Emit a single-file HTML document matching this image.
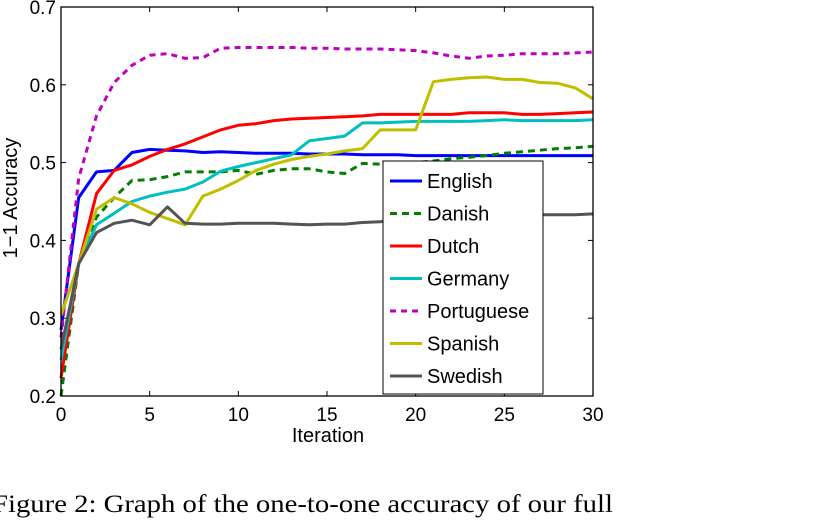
<!DOCTYPE html>
<html><head><meta charset="utf-8"><style>
html,body{margin:0;padding:0;background:#fff;}
svg{display:block;font-family:"Liberation Sans",Arial,sans-serif;}
</style></head><body>
<svg id="chart" width="818" height="521" viewBox="0 0 818 521">
<rect x="0" y="0" width="818" height="521" fill="#fff"/>
<g id="grid-ticks"></g>
<g id="series"></g>
<rect x="61" y="7" width="532" height="389" fill="none" stroke="#000" stroke-width="1.3"/>
<g id="legend"></g>
<text x="328" y="442" font-size="20" text-anchor="middle">Iteration</text>
<text transform="translate(17,198) rotate(-90)" font-size="20" text-anchor="middle">1−1 Accuracy</text>
<text x="-8" y="512" font-size="25" font-family="'Liberation Serif',serif" textLength="621" lengthAdjust="spacingAndGlyphs">Figure 2: Graph of the one-to-one accuracy of our full</text>
</svg>
<script>
const xTicks = [0,5,10,15,20,25,30];
const yTicks = [0.2,0.3,0.4,0.5,0.6,0.7];
const yTickLabels = ["0.2","0.3","0.4","0.5","0.6","0.7"];
const iterations = [0,1,2,3,4,5,6,7,8,9,10,11,12,13,14,15,16,17,18,19,20,21,22,23,24,25,26,27,28,29,30];
const seriesNames = ["English","Danish","Dutch","Germany","Portuguese","Spanish","Swedish"];
const english = [0.285,0.455,0.488,0.49,0.513,0.517,0.516,0.515,0.513,0.514,0.513,0.512,0.512,0.512,0.511,0.511,0.511,0.510,0.510,0.510,0.509,0.509,0.509,0.509,0.509,0.509,0.509,0.509,0.509,0.509,0.509];
const danish = [0.2,0.37,0.43,0.455,0.477,0.478,0.482,0.488,0.488,0.488,0.49,0.485,0.49,0.492,0.492,0.488,0.486,0.499,0.498,0.497,0.5,0.502,0.505,0.507,0.509,0.512,0.514,0.516,0.518,0.519,0.521];
const dutch = [0.223,0.37,0.46,0.49,0.497,0.508,0.517,0.524,0.533,0.542,0.548,0.55,0.554,0.556,0.557,0.558,0.559,0.56,0.562,0.562,0.562,0.562,0.562,0.564,0.564,0.564,0.562,0.562,0.563,0.564,0.565];
const germany = [0.246,0.37,0.42,0.435,0.45,0.457,0.462,0.466,0.475,0.489,0.495,0.5,0.505,0.51,0.528,0.531,0.534,0.551,0.551,0.552,0.553,0.553,0.553,0.553,0.554,0.555,0.554,0.554,0.554,0.554,0.555];
const portuguese = [0.275,0.48,0.56,0.603,0.625,0.638,0.64,0.634,0.635,0.647,0.648,0.648,0.648,0.648,0.647,0.647,0.646,0.646,0.646,0.645,0.644,0.641,0.637,0.634,0.637,0.638,0.64,0.64,0.64,0.641,0.642];
const spanish = [0.304,0.37,0.44,0.455,0.447,0.436,0.428,0.42,0.457,0.466,0.477,0.49,0.498,0.504,0.508,0.511,0.515,0.518,0.542,0.542,0.542,0.604,0.607,0.609,0.61,0.607,0.607,0.603,0.602,0.596,0.582];
const swedish = [0.26,0.37,0.41,0.422,0.426,0.42,0.443,0.422,0.421,0.421,0.422,0.422,0.422,0.421,0.42,0.421,0.421,0.423,0.424,0.425,0.426,0.427,0.428,0.429,0.43,0.43,0.431,0.433,0.433,0.433,0.434];

const NS="http://www.w3.org/2000/svg";
const X0=61,X1=593,Y0=396,Y1=7;
function sx(v){return X0+(v-0)/(30-0)*(X1-X0);}
function sy(v){return Y0-(v-0.2)/(0.7-0.2)*(Y0-Y1);}
function mk(tag,attrs,parent){const e=document.createElementNS(NS,tag);for(const k in attrs)e.setAttribute(k,attrs[k]);parent.appendChild(e);return e;}

const gt=document.getElementById('grid-ticks');
xTicks.forEach(t=>{
  const x=sx(t);
  const a=mk('line',{x1:x,x2:x,y1:Y0,y2:Y0-5,stroke:'#000','stroke-width':1},gt);
  
  
  const b=mk('line',{x1:x,x2:x,y1:Y1,y2:Y1+5,stroke:'#000','stroke-width':1},gt);
  
  
  const tx=mk('text',{x:x,y:421,'font-size':19,'text-anchor':'middle'},gt);
  tx.textContent=String(t);
  
  
});
yTicks.forEach((t,i)=>{
  const y=sy(t);
  const a=mk('line',{x1:X0,x2:X0+5,y1:y,y2:y,stroke:'#000','stroke-width':1},gt);
  
  
  const b=mk('line',{x1:X1,x2:X1-5,y1:y,y2:y,stroke:'#000','stroke-width':1},gt);
  
  
  const tx=mk('text',{x:56,y:y+7,'font-size':19,'text-anchor':'end'},gt);
  tx.textContent=yTickLabels[i];
  
  
});

const allSeries=[english,danish,dutch,germany,portuguese,spanish,swedish];
const colors=["#0000ff","#007f00","#ff0000","#00bfbf","#bf00bf","#bfbf00","#545454"];
const dashes=["none","7,5","none","none","6,5","none","none"];
const sg=document.getElementById('series');
allSeries.forEach((s,i)=>{
  const d=s.map((v,j)=>(j?'L':'M')+sx(iterations[j]).toFixed(1)+','+sy(v).toFixed(1)).join(' ');
  const p=mk('path',{d:d,fill:'none',stroke:colors[i],'stroke-width':3,'stroke-dasharray':dashes[i],'stroke-linejoin':'round'},sg);
  
  
});

const lg=document.getElementById('legend');
const box=mk('rect',{x:383,y:161,width:160,height:233,fill:'#fff',stroke:'#000','stroke-width':1},lg);


seriesNames.forEach((n,i)=>{
  const y=181+i*32.5;
  const l=mk('line',{x1:390,x2:422,y1:y,y2:y,stroke:colors[i],'stroke-width':3,'stroke-dasharray':dashes[i]},lg);
  
  
  const t=mk('text',{x:427,y:y+7,'font-size':20},lg);
  t.textContent=n;
  
  
});
</script>
</body></html>
